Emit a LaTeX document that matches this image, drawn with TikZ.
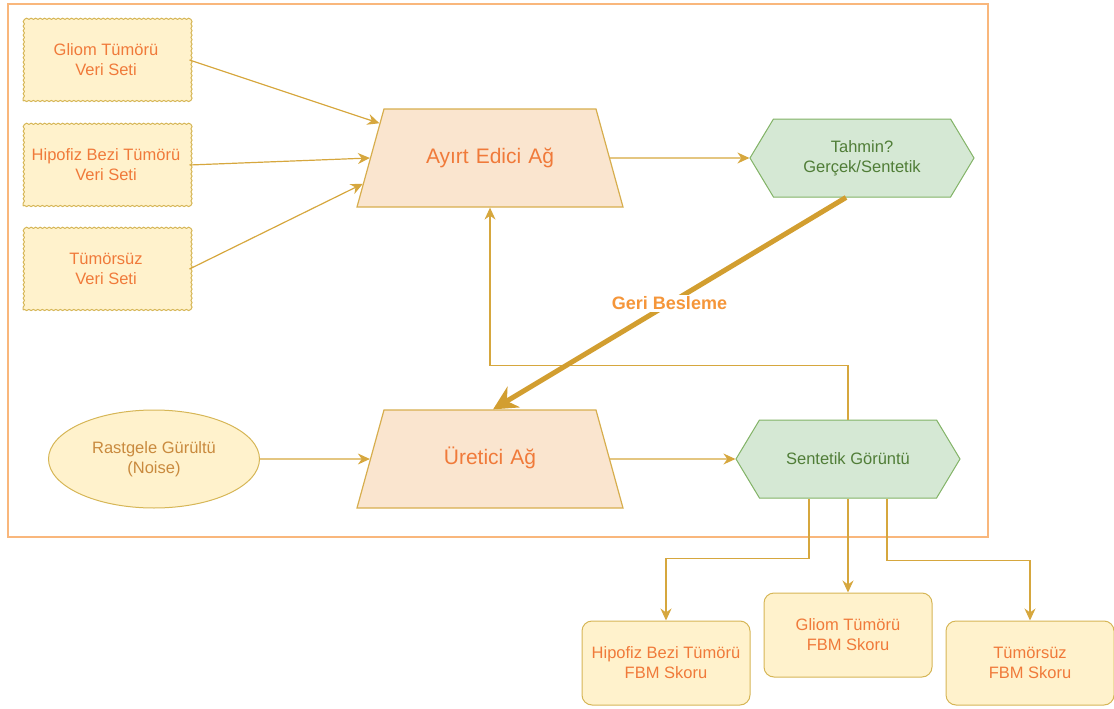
\documentclass[tikz,border=0pt]{standalone}
\usepackage{fontspec}
\setmainfont{Liberation Sans}
\usetikzlibrary{
  calc,shapes.geometric,shapes.symbols,
  arrows.meta,decorations.pathmorphing
}
\definecolor{frameor}{HTML}{F9B77C}
\definecolor{boxfill}{HTML}{FFF2CC}
\definecolor{boxline}{HTML}{D6B656}
\definecolor{netfill}{HTML}{FAE5CF}
\definecolor{netline}{HTML}{D7AE4E}
\definecolor{grnfill}{HTML}{D5E8D4}
\definecolor{grnline}{HTML}{82B366}
\definecolor{grntext}{HTML}{507D37}
\definecolor{ortext}{HTML}{F07A3A}
\definecolor{brtext}{HTML}{C98A3E}
\definecolor{arrcol}{HTML}{D6A73E}
\definecolor{fbcol}{HTML}{D29E30}
\definecolor{lblcol}{HTML}{F5963A}
\tikzset{
  lbl/.style={font=\fontsize{16.5}{20}\selectfont,align=center},
  dataset/.style={lbl,draw=boxline,fill=boxfill,line width=1pt,text=ortext,
    decorate,decoration={snake,amplitude=0.6pt,segment length=4.5pt},
    minimum width=166,minimum height=82},
  network/.style={trapezium,draw=netline,fill=netfill,line width=1.2pt,
    text width=212pt,align=center,text height=15pt,text depth=5pt,
    inner xsep=0pt,inner ysep=39pt,
    trapezium left angle=74.6,trapezium right angle=74.6,
    text=ortext,font=\fontsize{21}{25}\selectfont},
  hexa/.style={lbl,signal,signal to=west and east,signal pointer angle=118,
    draw=grnline,fill=grnfill,line width=1pt,text=grntext,
    minimum width=224,minimum height=78},
  score/.style={lbl,draw=boxline,fill=boxfill,line width=1pt,rounded corners=10pt,
    text=ortext,minimum width=168,minimum height=84},
  link/.style={draw=arrcol,line width=1.2pt,-{Stealth[length=12pt,width=11pt]}}
}
\begin{document}
\begin{tikzpicture}[x=1pt,y=-1pt]
\useasboundingbox (0,0) rectangle (1114,709);
\draw[frameor,line width=1.3pt] (8,4) rectangle (988,537);

% veri setleri
\node[dataset] (glio) at (106,60) {Gliom Tümörü\\Veri Seti};
\node[dataset] (hipo) at (106,165) {Hipofiz Bezi Tümörü\\Veri Seti};
\node[dataset] (none) at (106,269) {Tümörsüz\\Veri Seti};

% ağlar
\node[network] (ayirt) at (490,158) {Ayırt Edici Ağ};
\node[network] (uretici) at (490,459) {Üretici Ağ};
\node[hexa] (tahmin) at (862,158) {Tahmin?\\Gerçek/Sentetik};
\node[hexa] (sentetik) at (848,459) {Sentetik Görüntü};
\node[lbl,ellipse,draw=boxline,fill=boxfill,line width=1pt,text=brtext,
  minimum width=211,minimum height=98,inner sep=0pt] (noise) at (154,459)
  {Rastgele Gürültü\\(Noise)};

% skorlar
\node[score] (skhipo) at (666,663) {Hipofiz Bezi Tümörü\\FBM Skoru};
\node[score] (skglio) at (848,635) {Gliom Tümörü\\FBM Skoru};
\node[score] (sknone) at (1030,663) {Tümörsüz\\FBM Skoru};

\draw[link] (glio.east) -- ($(ayirt.top left corner)!0.15!(ayirt.bottom left corner)$);
\draw[link] (hipo.east) -- ($(ayirt.top left corner)!0.5!(ayirt.bottom left corner)$);
\draw[link] (none.east) -- ($(ayirt.top left corner)!0.76!(ayirt.bottom left corner)$);
\draw[link] (ayirt.east) -- (tahmin.west);
\draw[link] (noise.east) -- (uretici.west);
\draw[link] (uretici.east) -- (sentetik.west);
\draw[link] (sentetik.north) -- ++(0,-54) -| (ayirt.south);

\draw[fbcol,line width=5pt,-{Stealth[length=24pt,width=24pt]}]
  ($(tahmin.south)+(-16,0)$) -- ($(uretici.north)+(3,0)$)
  node[midway,fill=white,inner sep=2pt,text=lblcol,
    font=\fontsize{18}{22}\selectfont\bfseries] (geri) {Geri Besleme};

\draw[link] ($(sentetik.south)+(-39,0)$) -- ++(0,60) -| (skhipo.north);
\draw[link] (sentetik.south) -- (skglio.north);
\draw[link] ($(sentetik.south)+(39,0)$) -- ++(0,62) -| (sknone.north);
\end{tikzpicture}
\end{document}
